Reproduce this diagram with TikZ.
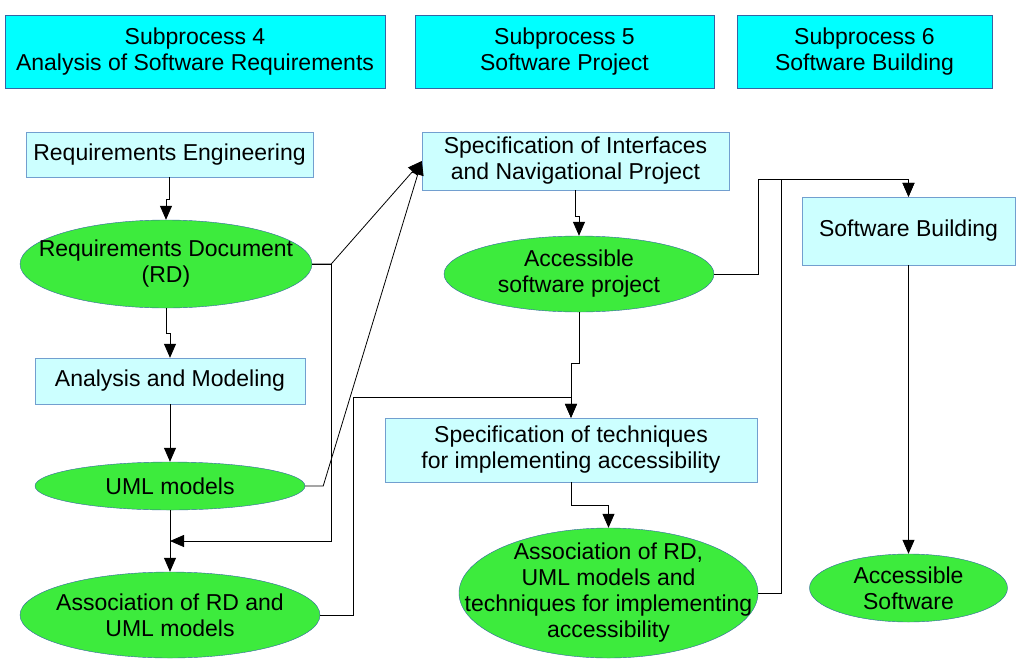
\documentclass[tikz,border=0pt]{standalone}
\usepackage{fontspec}
\setmainfont{Liberation Sans}
\usetikzlibrary{arrows.meta, calc, shapes.geometric}

\definecolor{headfill}{RGB}{0,255,255}
\definecolor{boxfill}{RGB}{204,255,255}
\definecolor{ovalfill}{RGB}{61,235,61}
\definecolor{edgeblue}{RGB}{52,101,164}
\definecolor{boxedge}{RGB}{114,159,207}

\begin{document}
\begin{tikzpicture}[x=1pt, y=-1pt, >={Triangle[length=14pt, width=12pt]},
  font=\fontsize{23}{26}\selectfont,
  head/.style={draw=edgeblue, fill=headfill, minimum height=73pt, align=center, inner sep=0pt},
  task/.style={draw=boxedge, fill=boxfill, align=center, inner sep=0pt},
  oval/.style={draw=edgeblue, fill=ovalfill, ellipse, align=center, inner xsep=-60pt, inner ysep=-20pt},
  link/.style={->, line width=0.8pt}]

\useasboundingbox (0,0) rectangle (1021,665);

% ---- the three subprocesses ---------------------------------------------------------
\node[head, minimum width=380pt] (h4) at (195,51.5) {Subprocess 4\\Analysis of Software Requirements};
\node[head, minimum width=299pt] (h5) at (564.5,51.5) {Subprocess 5\\Software Project};
\node[head, minimum width=255pt] (h6) at (864.5,51.5) {Subprocess 6\\Software Building};

% ---- subprocess 4 -------------------------------------------------------------------
\node[task, minimum width=287pt, minimum height=45pt] (reqeng) at (169.5,154.5) {Requirements Engineering};
\node[oval, minimum width=292pt, minimum height=88pt] (reqdoc) at (166,264) {Requirements Document\\(RD)};
\node[task, minimum width=270pt, minimum height=46pt] (anamod) at (170,381) {Analysis and Modeling};
\node[oval, minimum width=270pt, minimum height=48pt] (uml) at (170,486) {UML models};
\node[oval, minimum width=300pt, minimum height=86pt] (assoc) at (170,615) {Association of RD and\\UML models};

% ---- subprocess 5 -------------------------------------------------------------------
\node[task, minimum width=307pt, minimum height=58pt] (specif) at (575.5,161) {Specification of Interfaces\\and Navigational Project};
\node[oval, minimum width=270pt, minimum height=76pt] (accproj) at (579,274) {Accessible\\software project};
\node[task, minimum width=372pt, minimum height=64pt] (spectech) at (571,450) {Specification of techniques\\for implementing accessibility};
\node[oval, minimum width=299pt, minimum height=130pt] (assoctech) at (608.5,593)
  {Association of RD,\\UML models and\\techniques for implementing\\accessibility};

% ---- subprocess 6 -------------------------------------------------------------------
\node[task, minimum width=213pt, minimum height=68pt] (swbuild) at (908.5,231) {Software Building};
\node[oval, minimum width=198pt, minimum height=68pt] (accsw) at (908.5,588) {Accessible\\Software};

% ---- joints -------------------------------------------------------------------------
\coordinate (j1) at ($(uml.south)!0.5!(uml.south |- assoc.north)$);
\coordinate (j2) at ($(spectech.north)+(0,-20)$);
\coordinate (j3) at ($(swbuild.north)+(0,-17)$);

% ---- flow ---------------------------------------------------------------------------
\draw[link] (reqeng.south) -- ++(0,22) -| (reqdoc.north);
\draw[link] (reqdoc.south) -- ++(0,25) -| (anamod.north);
\draw[link] (anamod.south) -- (uml.north);
\draw[link] (uml.south) -- (uml.south |- assoc.north);
\draw[link] (reqdoc.east) -- ++(19,0) |- (j1);
\draw[link] (reqdoc.east) -- ++(19,0) -- (specif.west);
\draw[link] (uml.east) -- ++(18,0) -- (specif.west);

\draw[link] (specif.south) -- ++(0,26) -| (accproj.north);
\draw[link] (assoc.east) -- ++(33,0) |- (j2) -- (spectech.north);
\draw[link] (accproj.south) -- ++(0,51) -| (spectech.north);
\draw[link] (spectech.south) -- ++(0,23) -| (assoctech.north);

\draw[link] (accproj.east) -- ++(44,0) |- (j3) -- (swbuild.north);
\draw[link] (assoctech.east) -- ++(23,0) |- (j3) -- (swbuild.north);
\draw[link] (swbuild.south) -- (accsw.north);

\end{tikzpicture}
\end{document}
